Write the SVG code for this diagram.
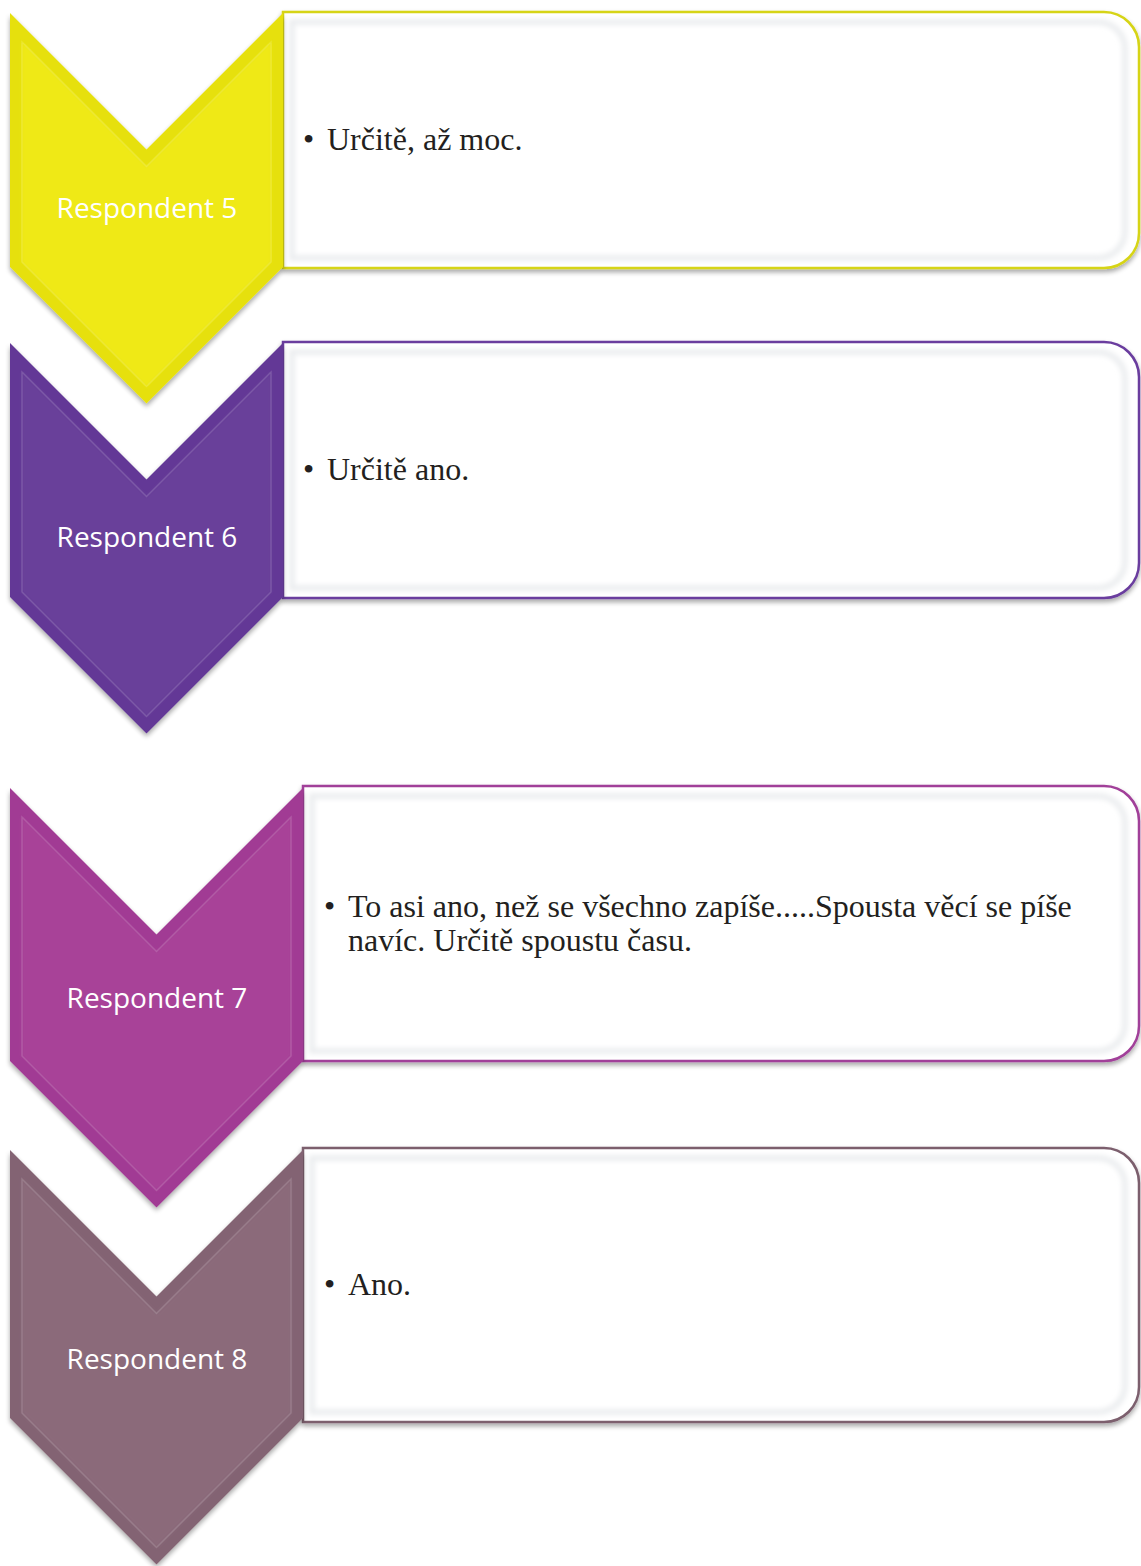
<svg xmlns="http://www.w3.org/2000/svg" width="1141" height="1566" viewBox="0 0 1141 1566">
  <defs>
    <filter id="shadow" x="-5%" y="-5%" width="110%" height="115%">
      <feGaussianBlur in="SourceAlpha" stdDeviation="2.5"/>
      <feOffset dx="0" dy="3" result="b"/>
      <feComponentTransfer><feFuncA type="linear" slope="0.35"/></feComponentTransfer>
      <feMerge><feMergeNode/><feMergeNode in="SourceGraphic"/></feMerge>
    </filter>
    <filter id="soft" x="-5%" y="-5%" width="110%" height="110%">
      <feGaussianBlur stdDeviation="2.5"/>
    </filter>
    <filter id="edge" x="-5%" y="-5%" width="110%" height="110%">
      <feGaussianBlur stdDeviation="1.5"/>
    </filter>
  </defs>
  <style>
    .label { font-family: "Open Sans", "Noto Sans", sans-serif; font-size: 28px; fill: #ffffff; text-anchor: middle; }
    .body { font-family: "Liberation Serif", "Times New Roman", serif; font-size: 32px; fill: #231f20; }
    .box { fill: #ffffff; stroke-width: 2.5; }
    .inner { fill: none; stroke: #eceef0; stroke-width: 6; }
    .hl { fill: none; stroke: #ffffff; stroke-opacity: 0.15; stroke-width: 1.5; }
  </style>
  <rect width="1141" height="1566" fill="#ffffff"/>

  <!-- Respondent 5 -->
  <g id="box-5">
    <path class="box" filter="url(#shadow)" stroke="#d6d416" d="M283,12 H1104 A35,35 0 0 1 1139,47 V233 A35,35 0 0 1 1104,268 H283 Z"/>
    <path class="inner" filter="url(#soft)" d="M292,22 H1098 A27,27 0 0 1 1125,49 V231 A27,27 0 0 1 1098,258 H292 Z"/>
    <text class="body" y="150"><tspan x="303">•</tspan><tspan x="327">Určitě, až moc.</tspan></text>
  </g>
  <g id="node-5">
    <path filter="url(#shadow)" fill="#e6e00e" d="M10,13 L146.5,149.5 L283,13 L283,267 L146.5,403.5 L10,267 Z"/>
    <path fill="#efe912" filter="url(#edge)" d="M22,42 L146.5,166.5 L271,42 L271,262 L146.5,386.5 L22,262 Z"/>
    <path class="hl" d="M22,42 L146.5,166.5 L271,42 L271,262 L146.5,386.5 L22,262 Z"/>
    <text class="label" x="147" y="218">Respondent 5</text>
  </g>

  <!-- Respondent 6 -->
  <g id="box-6">
    <path class="box" filter="url(#shadow)" stroke="#6a3d9e" d="M283,342 H1104 A35,35 0 0 1 1139,377 V563 A35,35 0 0 1 1104,598 H283 Z"/>
    <path class="inner" filter="url(#soft)" d="M292,352 H1098 A27,27 0 0 1 1125,379 V561 A27,27 0 0 1 1098,588 H292 Z"/>
    <text class="body" y="480"><tspan x="303">•</tspan><tspan x="327">Určitě ano.</tspan></text>
  </g>
  <g id="node-6">
    <path filter="url(#shadow)" fill="#633896" d="M10,343 L146.5,479.5 L283,343 L283,597 L146.5,733.5 L10,597 Z"/>
    <path fill="#69419a" filter="url(#edge)" d="M22,372 L146.5,496.5 L271,372 L271,592 L146.5,716.5 L22,592 Z"/>
    <path class="hl" d="M22,372 L146.5,496.5 L271,372 L271,592 L146.5,716.5 L22,592 Z"/>
    <text class="label" x="147" y="547">Respondent 6</text>
  </g>

  <!-- Respondent 7 -->
  <g id="box-7">
    <path class="box" filter="url(#shadow)" stroke="#a13f99" d="M303,786 H1104 A35,35 0 0 1 1139,821 V1026 A35,35 0 0 1 1104,1061 H303 Z"/>
    <path class="inner" filter="url(#soft)" d="M312,796 H1098 A27,27 0 0 1 1125,823 V1024 A27,27 0 0 1 1098,1051 H312 Z"/>
    <text class="body" y="917"><tspan x="324">•</tspan><tspan x="348">To asi ano, než se všechno zapíše.....Spousta věcí se píše</tspan></text>
    <text class="body" x="348" y="951">navíc. Určitě spoustu času.</text>
  </g>
  <g id="node-7">
    <path filter="url(#shadow)" fill="#a13b94" d="M10,788 L156.5,934.5 L303,788 L303,1061 L156.5,1207.5 L10,1061 Z"/>
    <path fill="#a84298" filter="url(#edge)" d="M22,817 L156.5,951.5 L291,817 L291,1056 L156.5,1190.5 L22,1056 Z"/>
    <path class="hl" d="M22,817 L156.5,951.5 L291,817 L291,1056 L156.5,1190.5 L22,1056 Z"/>
    <text class="label" x="157" y="1008">Respondent 7</text>
  </g>

  <!-- Respondent 8 -->
  <g id="box-8">
    <path class="box" filter="url(#shadow)" stroke="#7b5e6d" d="M303,1148 H1104 A35,35 0 0 1 1139,1183 V1387 A35,35 0 0 1 1104,1422 H303 Z"/>
    <path class="inner" filter="url(#soft)" d="M312,1158 H1098 A27,27 0 0 1 1125,1185 V1385 A27,27 0 0 1 1098,1412 H312 Z"/>
    <text class="body" y="1295"><tspan x="324">•</tspan><tspan x="348">Ano.</tspan></text>
  </g>
  <g id="node-8">
    <path filter="url(#shadow)" fill="#836473" d="M10,1150 L156.5,1296.5 L303,1150 L303,1418 L156.5,1564.5 L10,1418 Z"/>
    <path fill="#8b6b7a" filter="url(#edge)" d="M22,1179 L156.5,1313.5 L291,1179 L291,1413 L156.5,1547.5 L22,1413 Z"/>
    <path class="hl" d="M22,1179 L156.5,1313.5 L291,1179 L291,1413 L156.5,1547.5 L22,1413 Z"/>
    <text class="label" x="157" y="1369">Respondent 8</text>
  </g>

  <g id="connectors"/>
</svg>
